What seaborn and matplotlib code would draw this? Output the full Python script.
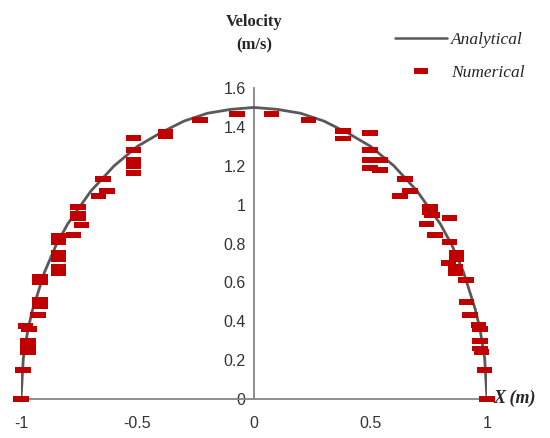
import matplotlib
matplotlib.use("Agg")
import matplotlib.pyplot as plt
from matplotlib.path import Path
from matplotlib.lines import Line2D
from matplotlib.ticker import MultipleLocator
import seaborn as sns
import pandas as pd

# analytical profile
x_analytical = [-1.0, -0.99, -0.97, -0.95, -0.9, -0.85, -0.8, -0.7, -0.6, -0.5, -0.4, -0.3, -0.2, -0.1, 0.0,
                0.1, 0.2, 0.3, 0.4, 0.5, 0.6, 0.7, 0.8, 0.85, 0.9, 0.95, 0.97, 0.99, 1.0]
v_analytical = [0.0, 0.21, 0.36, 0.46, 0.65, 0.79, 0.90, 1.07, 1.20, 1.30, 1.37, 1.43, 1.47, 1.49, 1.50,
                1.49, 1.47, 1.43, 1.37, 1.30, 1.20, 1.07, 0.90, 0.79, 0.65, 0.46, 0.36, 0.21, 0.0]

# numerical results
x_numerical = [-1.0, -0.992, -0.97, -0.97, -0.97, -0.98, -0.965, -0.926, -0.918, -0.918, -0.918, -0.918,
               -0.84, -0.84, -0.84, -0.84, -0.84, -0.84, -0.775, -0.755, -0.755, -0.755, -0.74,
               -0.647, -0.632, -0.668, -0.518, -0.518, -0.518, -0.518, -0.518, -0.38, -0.38, -0.232, -0.074,
               0.076, 0.233, 0.383, 0.383, 0.498, 0.498, 0.498, 0.498, 0.54, 0.54, 0.648, 0.67, 0.627,
               0.755, 0.755, 0.765, 0.84, 0.74, 0.777, 0.84, 0.87, 0.87, 0.834, 0.865, 0.865, 0.91,
               0.912, 0.927, 0.963, 0.97, 0.97, 0.97, 0.977, 0.99, 1.0]
v_numerical = [0.0, 0.15, 0.27, 0.24, 0.30, 0.375, 0.36, 0.43, 0.51, 0.48, 0.63, 0.60,
               0.72, 0.68, 0.65, 0.75, 0.81, 0.84, 0.845, 0.99, 0.95, 0.93, 0.895,
               1.13, 1.07, 1.045, 1.345, 1.28, 1.23, 1.20, 1.165, 1.375, 1.355, 1.435, 1.465,
               1.465, 1.435, 1.38, 1.34, 1.37, 1.28, 1.23, 1.19, 1.23, 1.18, 1.13, 1.07, 1.045,
               0.99, 0.96, 0.945, 0.93, 0.90, 0.845, 0.81, 0.75, 0.72, 0.70, 0.68, 0.65, 0.61,
               0.50, 0.43, 0.38, 0.36, 0.30, 0.26, 0.24, 0.15, 0.0]

df_a = pd.DataFrame({"x": x_analytical, "v": v_analytical})
df_n = pd.DataFrame({"x": x_numerical, "v": v_numerical})

sns.set_style("white")
serif = "Liberation Serif"
sans = "Liberation Sans"

# flat dash marker
dash = Path([(-1, -0.38), (1, -0.38), (1, 0.38), (-1, 0.38), (-1, -0.38)],
            [Path.MOVETO, Path.LINETO, Path.LINETO, Path.LINETO, Path.CLOSEPOLY])
red = "#C00000"
gray = "#595959"
axis_gray = "#868686"

fig = plt.figure(figsize=(5.5, 4.38), dpi=100)
ax = fig.add_axes([21 / 550, 39 / 438, 466 / 550, 311 / 438])

sns.lineplot(data=df_a, x="x", y="v", ax=ax, color=gray, linewidth=2, sort=False, zorder=2)
sns.scatterplot(data=df_n, x="x", y="v", ax=ax, marker=dash, s=125, color=red,
                edgecolor="none", linewidth=0, zorder=3, clip_on=False)

ax.set_xlim(-1, 1)
ax.set_ylim(0, 1.6)
ax.set_xlabel("")
ax.set_ylabel("")

# axes cross at the origin
ax.spines["left"].set_position(("data", 0))
ax.spines["bottom"].set_position(("data", 0))
ax.spines["right"].set_visible(False)
ax.spines["top"].set_visible(False)
for s in ["left", "bottom"]:
    ax.spines[s].set_color(axis_gray)
    ax.spines[s].set_linewidth(1.3)
    ax.spines[s].set_zorder(1)

ax.xaxis.set_minor_locator(MultipleLocator(0.1))
ax.yaxis.set_minor_locator(MultipleLocator(0.05))
ax.set_xticks([-1, -0.5, 0, 0.5, 1])
ax.set_xticklabels(["-1", "-0.5", "0", "0.5", "1"])
ax.set_yticks([0, 0.2, 0.4, 0.6, 0.8, 1.0, 1.2, 1.4, 1.6])
ax.set_yticklabels(["0", "0.2", "0.4", "0.6", "0.8", "1", "1.2", "1.4", "1.6"])
ax.tick_params(axis="both", which="major", direction="inout", length=8, width=1.2,
               color=axis_gray, labelsize=11.5, labelcolor="#333333")
ax.tick_params(axis="both", which="minor", direction="in", length=4, width=1.0, color=axis_gray)
ax.tick_params(axis="x", which="major", pad=8)
ax.tick_params(axis="y", which="major", pad=2)
for lab in ax.get_xticklabels() + ax.get_yticklabels():
    lab.set_family(sans)

fig.text(254 / 550, 1 - 22 / 438, "Velocity", ha="center", va="center",
         family=serif, fontweight="bold", fontsize=12)
fig.text(254 / 550, 1 - 45 / 438, "(m/s)", ha="center", va="center",
         family=serif, fontweight="bold", fontsize=12)
fig.text(493 / 550, 1 - 398 / 438, "X (m)", ha="left", va="center",
         family=serif, fontweight="bold", style="italic", fontsize=13)

handles = [Line2D([0], [0], color=gray, linewidth=1.8),
           Line2D([0], [0], linestyle="none", marker=dash, markersize=10, color=red, markeredgewidth=0)]
leg = fig.legend(handles, ["Analytical", "Numerical"], loc="upper right",
                 bbox_to_anchor=(540 / 550, 1 - 16 / 438), frameon=False,
                 handlelength=3.0, handletextpad=0.2, labelspacing=1.0,
                 prop={"family": serif, "style": "italic", "size": 12.5})

fig.savefig("out.png", dpi=100)
